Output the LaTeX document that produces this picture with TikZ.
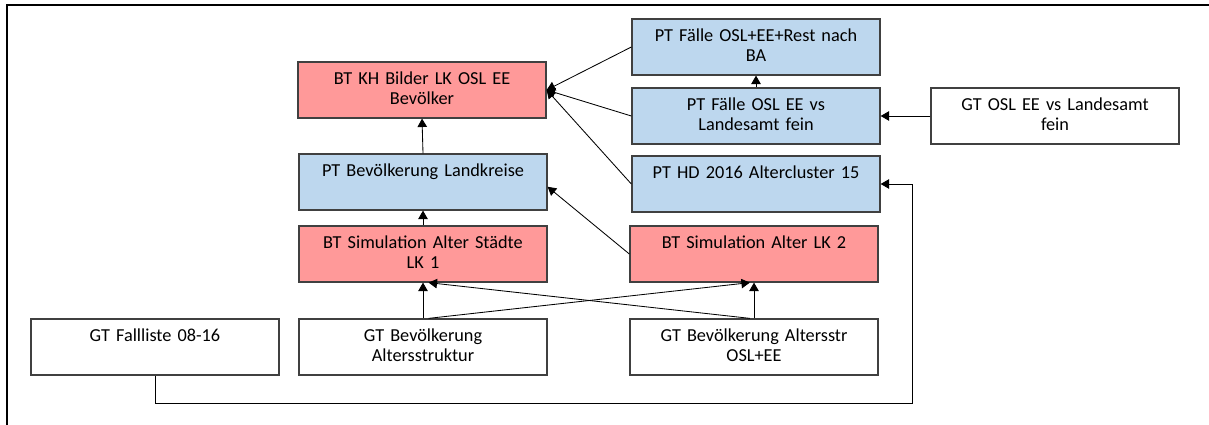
\documentclass[tikz,border=0pt]{standalone}
\usepackage{fontspec}
\setmainfont{Carlito}
\usepackage{tikz}
\usetikzlibrary{arrows}
\definecolor{salmon}{HTML}{FF9999}
\definecolor{skyblue}{HTML}{BDD7EE}
\definecolor{edgegray}{HTML}{404040}
\tikzset{
  box/.style={draw=edgegray, line width=0.9pt, inner sep=0pt, text width=6.2cm,
    align=center, text height=0.56cm, text depth=0.84cm,
    font=\fontsize{13}{14.4}\selectfont},
  redbox/.style={box, fill=salmon},
  bluebox/.style={box, fill=skyblue},
  link/.style={line width=0.6pt, -triangle 60}
}
\begin{document}
\begin{tikzpicture}[x=0.025cm, y=-0.025cm]
\useasboundingbox (0,0) rectangle (1209,425);

% frame of the screenshot
\draw[line width=1.6pt] (7,425) -- (7,5) -- (1209,5);

\node[redbox] (kh) at (422,90) {BT KH Bilder LK OSL EE\\Bevölker};
\node[bluebox] (pbev) at (423,182) {PT Bevölkerung Landkreise};
\node[redbox] (sim1) at (423,254) {BT Simulation Alter Städte\\LK 1};
\node[redbox] (sim2) at (754,254) {BT Simulation Alter LK 2};
\node[box] (fall) at (155,347) {GT Fallliste 08-16};
\node[box] (gtbev) at (423,347) {GT Bevölkerung\\Altersstruktur};
\node[box] (gtosl) at (754,347) {GT Bevölkerung Altersstr\\OSL+EE};
\node[bluebox] (rest) at (756,47) {PT Fälle OSL+EE+Rest nach\\BA};
\node[bluebox] (vs) at (756,116) {PT Fälle OSL EE vs\\Landesamt fein};
\node[bluebox] (hd) at (756,184) {PT HD 2016 Altercluster 15};
\node[box] (gtvs) at (1055,116) {GT OSL EE vs Landesamt\\fein};

\draw[link] (rest.west) -- (kh.east);
\draw[link] (vs.west) -- (kh.east);
\draw[link] (hd.west) -- (kh.east);
\draw[link] (vs.north) -- (rest.south);
\draw[link] (gtvs.west) -- (vs.east);
\draw[link] (pbev.north) -- (kh.south);
\draw[link] (sim1.north) -- (pbev.south);
\draw[link] (sim2.west) -- ([yshift=-0.12cm]pbev.east);
\draw[link] (gtbev.north) -- (sim1.south);
\draw[link] (gtosl.north) -- (sim2.south);
\draw[link] ([xshift=4pt]gtbev.north) -- ([xshift=-3pt]sim2.south);
\draw[link] ([xshift=-3pt]gtosl.north) -- ([xshift=4pt]sim1.south);

\coordinate (low) at (156,403);
\coordinate (turn) at (912,403);
\draw[link] (fall.south) -- (fall.south |- low) -- (turn) |- (hd.east);

\end{tikzpicture}
\end{document}
